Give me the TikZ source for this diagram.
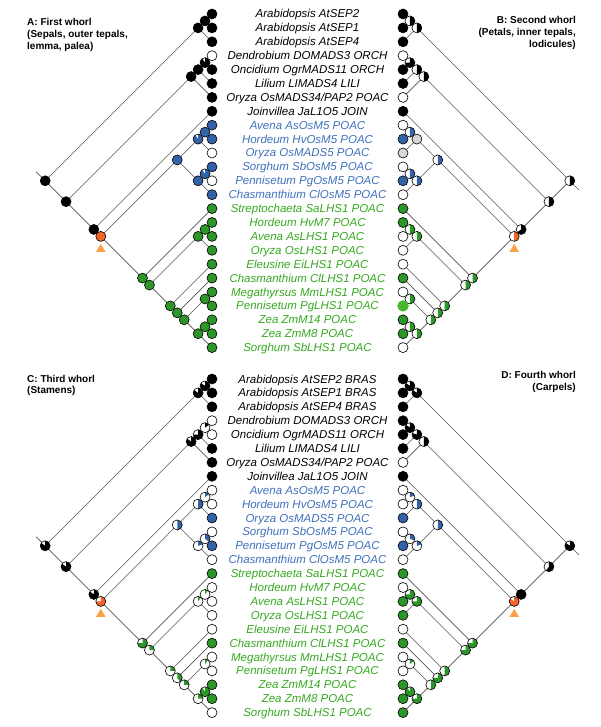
\documentclass[tikz,border=0pt]{standalone}
\usepackage{fontspec}
\setmainfont{Liberation Sans}
\usetikzlibrary{calc}
\definecolor{WhBlue}{RGB}{52,98,168}
\definecolor{WhBlueTxt}{RGB}{62,112,186}
\definecolor{WhGreen}{RGB}{44,150,40}
\definecolor{WhGreenTxt}{RGB}{52,168,30}
\definecolor{WhLime}{RGB}{70,185,45}
\definecolor{WhOrange}{RGB}{242,100,40}
\definecolor{WhTri}{RGB}{250,160,70}
\definecolor{WhGrey}{RGB}{215,215,215}
\definecolor{WhEdge}{RGB}{85,85,85}

% one pie: coordinate, filled fraction (clockwise from top), colour
\newcommand{\whorlpie}[3]{%
  \fill[white] (#1) circle[radius=5];
  \ifdim#2pt>0.995pt
    \fill[#3] (#1) circle[radius=5];
  \else
    \fill[#3] (#1) -- ++(-90:5) arc[start angle=-90, delta angle={360*#2}, radius=5] -- cycle;
  \fi
  \draw[pieline] (#1) circle[radius=5];}

% slanted tree: prefix, leaf x, direction, y of first leaf
\newcommand{\whorltree}[4]{%
  \foreach \i in {0,...,24}
    \coordinate (#1-L\i) at (#2,{#4+13.9*\i});
  % inner nodes: name/first leaf/last leaf
  \foreach \nd/\lo/\hi in {n01/0/1, n02/0/2, n34/3/4, n35/3/5, n36/3/6,
      n89/8/9, n810/8/10, n1112/11/12, n1113/11/13, nBlue/8/13,
      n1516/15/16, n1517/15/17, n2021/20/21, n2223/22/23, n2224/22/24,
      n2024/20/24, n1924/19/24, n1824/18/24, n1524/15/24, nGreen/14/24,
      nGrass/8/24, nJ/7/24, nR1/3/24, nRoot/0/24}
    \coordinate (#1-\nd) at ({#2+(#3)*6.95*(\hi-\lo)},{#4+6.95*(\lo+\hi)});
  % branches child/parent
  \foreach \ch/\pa in {L0/n01, L1/n01, n01/n02, L2/n02, n02/nRoot,
      L3/n34, L4/n34, n34/n35, L5/n35, n35/n36, L6/n36, n36/nR1,
      L7/nJ, nJ/nR1, nR1/nRoot,
      L8/n89, L9/n89, n89/n810, L10/n810, n810/nBlue,
      L11/n1112, L12/n1112, n1112/n1113, L13/n1113, n1113/nBlue, nBlue/nGrass,
      L15/n1516, L16/n1516, n1516/n1517, L17/n1517, n1517/n1524,
      L20/n2021, L21/n2021, n2021/n2024, L22/n2223, L23/n2223, n2223/n2224,
      L24/n2224, n2224/n2024, n2024/n1924, L19/n1924, n1924/n1824,
      L18/n1824, n1824/n1524, n1524/nGreen, L14/nGreen, nGreen/nGrass, nGrass/nJ}
    \draw[branch] (#1-\ch) -- (#1-\pa);
}

\begin{document}
\begin{tikzpicture}[x=1pt, y=-1pt,
    branch/.style={WhEdge, line width=0.6pt},
    pieline/.style={black, line width=0.6pt},
    taxon/.style={font=\itshape\fontsize{11.5}{13}\selectfont, anchor=base, inner sep=0pt},
    head/.style={font=\bfseries\fontsize{10}{11.7}\selectfont, inner sep=0pt}]
  \useasboundingbox (0,0) rectangle (600,727);

  % four trees, two mirrored
  \whorltree{A}{212}{-1}{14}
  \whorltree{B}{403}{1}{14}
  \whorltree{C}{212}{-1}{379}
  \whorltree{D}{403}{1}{379}

  % root stubs
  \coordinate (A-stub) at ($(A-nRoot)+(-9,-9)$);
  \coordinate (B-stub) at ($(B-nRoot)+(9,9)$);
  \coordinate (C-stub) at ($(C-nRoot)+(-9,-9)$);
  \coordinate (D-stub) at ($(D-nRoot)+(9,9)$);
  \foreach \p in {A,B,C,D}
    \draw[branch] (\p-nRoot) -- (\p-stub);

  % A: first whorl
  \foreach \nd/\fr/\cl in {nRoot/1/black, nR1/1/black, nJ/1/black, nGrass/1/WhOrange,
      n02/1/black, n01/1/black, n36/1/black, n35/1/black, n34/.9/black,
      nBlue/1/WhBlue, n810/.9/WhBlue, n89/1/WhBlue, n1113/1/WhBlue, n1112/.9/WhBlue,
      nGreen/1/WhGreen, n1524/1/WhGreen, n1517/1/WhGreen, n1516/1/WhGreen,
      n1824/1/WhGreen, n1924/1/WhGreen, n2024/1/WhGreen, n2224/1/WhGreen,
      n2223/1/WhGreen, n2021/1/WhGreen}
    \whorlpie{A-\nd}{\fr}{\cl};
  \foreach \cl [count=\i from 0] in {black,black,black,white,black,black,black,black,
      WhBlue,WhBlue,white,WhBlue,white,WhBlue,
      WhGreen,WhGreen,WhGreen,WhGreen,WhGreen,WhGreen,WhGreen,WhGreen,WhGreen,WhGreen,WhGreen}
    \whorlpie{A-L\i}{1}{\cl};

  % B: second whorl
  \foreach \nd/\fr/\cl in {nRoot/.5/black, nR1/.5/black, nJ/.65/black, nGrass/.5/WhOrange,
      n02/.5/black, n01/.5/black, n36/.5/black, n35/.5/black, n34/.75/black,
      nBlue/.5/WhBlue, n810/1/WhGrey, n89/.5/WhBlue, n1113/.5/WhBlue, n1112/.5/WhBlue,
      nGreen/.5/WhGreen, n1524/.5/WhGreen, n1517/.5/WhGreen, n1516/.5/WhGreen,
      n1824/.5/WhGreen, n1924/.5/WhGreen, n2024/.5/WhGreen, n2224/.5/WhGreen,
      n2223/.5/WhGreen, n2021/.5/WhGreen}
    \whorlpie{B-\nd}{\fr}{\cl};
  \foreach \cl [count=\i from 0] in {black,black,black,white,black,black,white,black,
      white,WhBlue,WhGrey,white,WhBlue,white,
      WhGreen,WhGreen,white,white,white,WhGreen,white,white,WhGreen,WhGreen,white}
    \whorlpie{B-L\i}{1}{\cl};
  \fill[WhLime] (B-L21) circle[radius=5.6];

  % C: third whorl
  \foreach \nd/\fr/\cl in {nRoot/.85/black, nR1/.85/black, nJ/.85/black, nGrass/.75/WhOrange,
      n02/.85/black, n01/.85/black, n36/.85/black, n35/.75/black, n34/.15/black,
      nBlue/.5/WhBlue, n810/.5/WhBlue, n89/.15/WhBlue, n1113/.2/WhBlue, n1112/.35/WhBlue,
      nGreen/.75/WhGreen, n1524/.25/WhGreen, n1517/.1/WhGreen, n1516/.1/WhGreen,
      n1824/.25/WhGreen, n1924/.4/WhGreen, n2024/.25/WhGreen, n2224/.25/WhGreen,
      n2223/.9/WhGreen, n2021/.1/WhGreen}
    \whorlpie{C-\nd}{\fr}{\cl};
  \foreach \cl [count=\i from 0] in {black,black,black,white,white,black,black,black,
      white,white,WhBlue,white,WhBlue,white,
      WhGreen,white,white,white,white,WhGreen,white,white,WhGreen,WhGreen,white}
    \whorlpie{C-L\i}{1}{\cl};

  % D: fourth whorl
  \foreach \nd/\fr/\cl in {nRoot/.85/black, nR1/.6/black, nJ/1/black, nGrass/.85/WhOrange,
      n02/.85/black, n01/.85/black, n36/.5/black, n35/.8/black, n34/.85/black,
      nBlue/.5/WhBlue, n810/.5/WhBlue, n89/.2/WhBlue, n1113/.2/WhBlue, n1112/.3/WhBlue,
      nGreen/.75/WhGreen, n1524/.75/WhGreen, n1517/.75/WhGreen, n1516/.75/WhGreen,
      n1824/.5/WhGreen, n1924/.75/WhGreen, n2024/.5/WhGreen, n2224/.75/WhGreen,
      n2223/.9/WhGreen, n2021/.15/WhGreen}
    \whorlpie{D-\nd}{\fr}{\cl};
  \foreach \cl [count=\i from 0] in {black,black,black,black,black,black,white,black,
      white,white,WhBlue,white,WhBlue,white,
      WhGreen,white,WhGreen,WhGreen,white,WhGreen,white,white,WhGreen,WhGreen,WhGreen}
    \whorlpie{D-L\i}{1}{\cl};

  % duplication marks under the grass nodes
  \foreach \p in {A,B,C,D}
    \fill[WhTri] ($(\p-nGrass)+(-4.8,15.5)$) -- ($(\p-nGrass)+(4.8,15.5)$)
      -- ($(\p-nGrass)+(0,7.5)$) -- cycle;

  % taxon names, top and bottom
  \foreach \yy/\pp in {14/t, 379/b}
    \foreach \i/\tx in {3/Dendrobium DOMADS3 ORCH, 4/Oncidium OgrMADS11 ORCH,
        5/Lilium LIMADS4 LILI, 6/{Oryza OsMADS34/PAP2 POAC}, 7/Joinvillea JaL1O5 JOIN,
        8/Avena AsOsM5 POAC, 9/Hordeum HvOsM5 POAC, 10/Oryza OsMADS5 POAC,
        11/Sorghum SbOsM5 POAC, 12/Pennisetum PgOsM5 POAC, 13/Chasmanthium ClOsM5 POAC,
        14/Streptochaeta SaLHS1 POAC, 15/Hordeum HvM7 POAC, 16/Avena AsLHS1 POAC,
        17/Oryza OsLHS1 POAC, 18/Eleusine EiLHS1 POAC, 19/Chasmanthium ClLHS1 POAC,
        20/Megathyrsus MmLHS1 POAC, 21/Pennisetum PgLHS1 POAC, 22/Zea ZmM14 POAC,
        23/Zea ZmM8 POAC, 24/Sorghum SbLHS1 POAC}{
      \ifnum\i<8 \colorlet{TaxCol}{black}\else\ifnum\i<14 \colorlet{TaxCol}{WhBlueTxt}\else\colorlet{TaxCol}{WhGreenTxt}\fi\fi
      \node[taxon, text=TaxCol] (lab-\pp-\i) at (307.5,{\yy+13.9*\i+4}) {\tx};
    }
  \foreach \i/\tx in {0/AtSEP2, 1/AtSEP1, 2/AtSEP4}{
    \node[taxon] (lab-t-\i) at (307.5,{14+13.9*\i+4}) {Arabidopsis \tx};
    \node[taxon] (lab-b-\i) at (307.5,{379+13.9*\i+4}) {Arabidopsis \tx\ BRAS};
  }

  % panel headings
  \node[head, anchor=north west, align=left] (headA) at (27,18.3)
    {A: First whorl\\(Sepals, outer tepals,\\lemma, palea)};
  \node[head, anchor=north east, align=right] (headB) at (576,16.5)
    {B: Second whorl\\(Petals, inner tepals,\\lodicules)};
  \node[head, anchor=north west, align=left] (headC) at (27,374.7)
    {C: Third whorl\\(Stamens)};
  \node[head, anchor=north east, align=right] (headD) at (576,371.3)
    {D: Fourth whorl\\(Carpels)};
\end{tikzpicture}
\end{document}
